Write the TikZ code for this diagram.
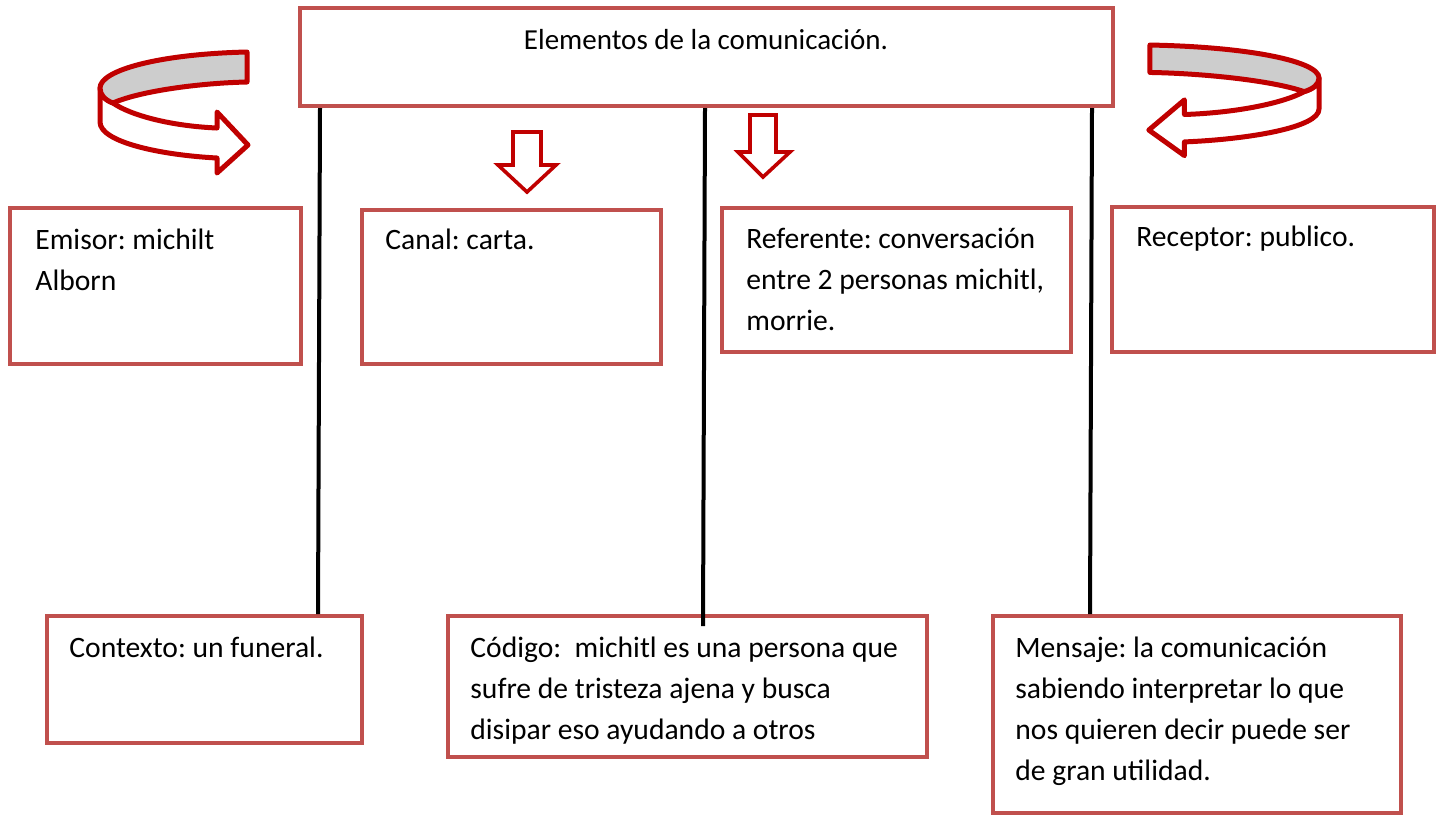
\documentclass[tikz,border=0pt]{standalone}
\usepackage{fontspec}
\setmainfont{Carlito}
\frenchspacing
\definecolor{boxred}{RGB}{192, 80, 77}
\definecolor{arrowred}{RGB}{192, 0, 0}
\definecolor{bandgray}{RGB}{205, 205, 205}
\usetikzlibrary{calc}

\begin{document}
\begin{tikzpicture}[
  x=0.5pt, y=-0.5pt,
  elbox/.style={draw=boxred, line width=2pt, inner sep=0pt},
  eltext/.style={anchor=base west, align=left, inner sep=0pt, font=\fontsize{14.8}{20.5}\selectfont},
  linea/.style={draw=black, line width=2pt},
  flecha/.style={draw=arrowred, line width=1.8pt, fill=white, line join=miter},
  giro/.style={draw=arrowred, line width=2.5pt, line join=round}
]
  \useasboundingbox (0,0) rectangle (1438,816);

  % title
  \node[elbox, minimum width=406.5pt, minimum height=49pt] (titulo) at (706.5,57) {};
  \node[eltext, anchor=base, font=\fontsize{14.5}{20.5}\selectfont] (titulo-txt) at (706,49) {Elementos de la comunicación.};

  % upper row (text nodes sit on the baseline of their last line)
  \node[elbox, minimum width=145.5pt, minimum height=78pt] (emisor) at (155.5,286) {};
  \node[elbox, minimum width=149.5pt, minimum height=77pt] (canal) at (511.5,287) {};
  \node[elbox, minimum width=174.5pt, minimum height=72pt] (referente) at (896.5,280) {};
  \node[elbox, minimum width=161pt, minimum height=72.5pt] (receptor) at (1273,279.5) {};
  \node[eltext] (emisor-txt) at (35,290) {Emisor: michilt\\Alborn};
  \node[eltext] (canal-txt) at (385,249) {Canal: carta.};
  \node[eltext] (referente-txt) at (746,330) {Referente: conversación\\entre 2 personas michitl,\\morrie.};
  \node[eltext] (receptor-txt) at (1136,246) {Receptor: publico.};

  % lower row
  \node[elbox, minimum width=157.5pt, minimum height=63.5pt] (contexto) at (204.5,679.5) {};
  \node[elbox, minimum width=239.5pt, minimum height=70.5pt] (codigo) at (687.5,686.5) {};
  \node[elbox, minimum width=204pt, minimum height=98.5pt] (mensaje) at (1197,714.5) {};
  \node[eltext] (contexto-txt) at (69,657) {Contexto: un funeral.};
  \node[eltext] (codigo-txt) at (470,739) {Código:\ \ michitl es una persona que\\sufre de tristeza ajena y busca\\disipar eso ayudando a otros};
  \node[eltext] (mensaje-txt) at (1015,780) {Mensaje: la comunicación\\sabiendo interpretar lo que\\nos quieren decir puede ser\\de gran utilidad.};

  % connectors
  \draw[linea] ([xshift=11pt]titulo.south west) -- ([xshift=-23pt]contexto.north east);
  \draw[linea] ([xshift=-0.75pt]titulo.south) -- ([xshift=7.75pt, yshift=-6pt]codigo.north);
  \draw[linea] ([xshift=-11.5pt]titulo.south east) -- ([xshift=-53.5pt]mensaje.north);

  % down arrows
  \draw[flecha] (513,132) -- (541,132) -- (541,165) -- (556,165) -- (527,192)
    -- (498,165) -- (513,165) -- cycle;
  \draw[flecha] (750,115) -- (776,115) -- (776,152) -- (790,152) -- (763,177)
    -- (738,152) -- (750,152) -- cycle;

  % turning arrows
  \foreach \sh/\xs/\ys in {0/1/1, 1434/-1.15/0.914} {
    \begin{scope}[shift={(\sh,{\sh==0 ? 0 : -2.5})}, xscale=\xs, yscale=\ys]
      \draw[giro, fill=white] (100,88) -- (100,122)
        .. controls (100,142) and (160,155) .. (217,158) -- (217,173) -- (248,145)
        -- (217,112) -- (217,128) .. controls (170,126) and (130,115) .. (113,103)
        .. controls (105,100) and (100,95) .. (100,88) -- cycle;
      \draw[giro, fill=bandgray] (247,52) -- (247,82)
        .. controls (200,83) and (140,91) .. (113,103)
        .. controls (105,100) and (100,95) .. (100,88)
        .. controls (100,70) and (160,54) .. (247,52) -- cycle;
    \end{scope}
  }
\end{tikzpicture}
\end{document}
